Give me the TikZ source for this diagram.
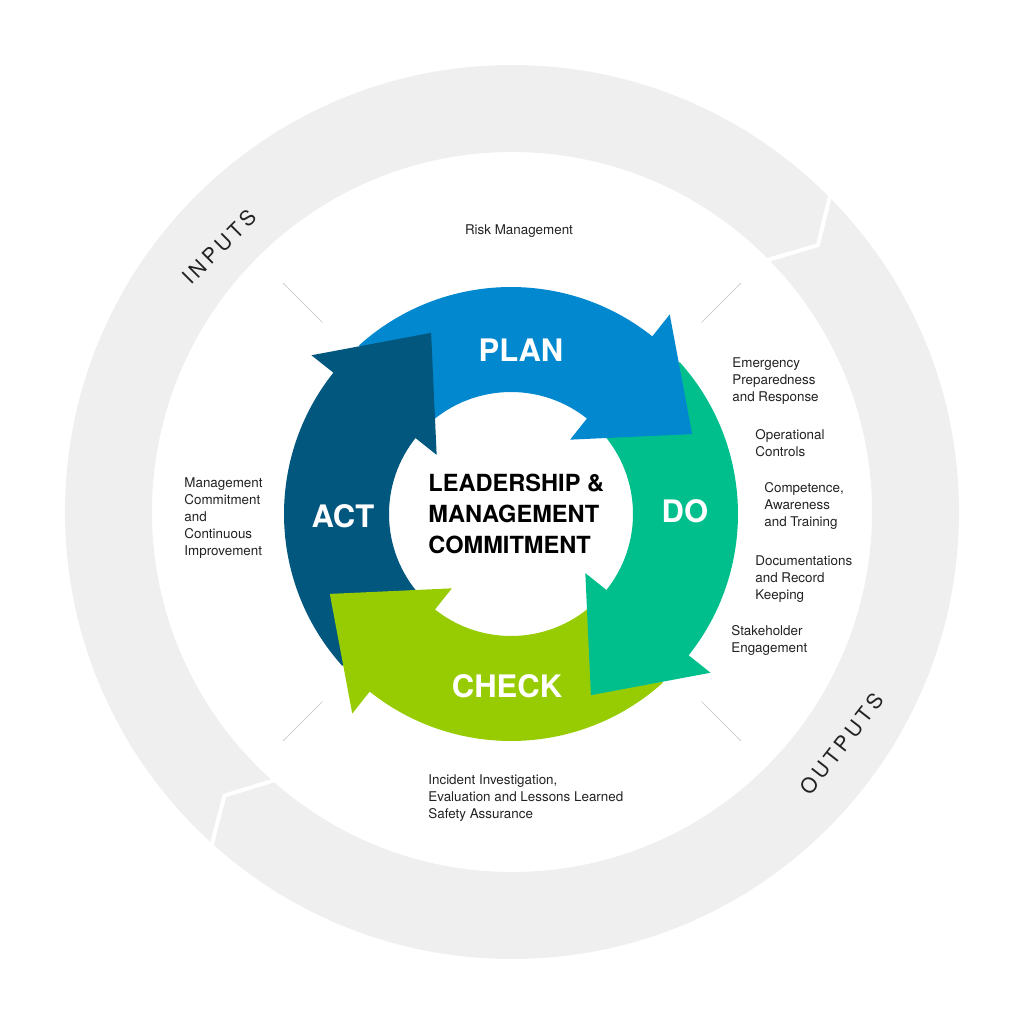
\documentclass[tikz,border=0pt]{standalone}
\usepackage{fontspec}
\setmainfont{TeX Gyre Heros}
\usepackage{tikz}
\usetikzlibrary{positioning}

\definecolor{ringgrey}{HTML}{EFEFEF}
\definecolor{tickgrey}{HTML}{D2D2D2}
\definecolor{inkgrey}{HTML}{222222}
\definecolor{planblue}{HTML}{0288CF}
\definecolor{dogreen}{HTML}{00BF8C}
\definecolor{checkgreen}{HTML}{97CC03}
\definecolor{actblue}{HTML}{02577F}

\tikzset{
  note/.style={anchor=west, align=left, inner sep=0pt, text=inkgrey,
    font=\fontsize{6.7}{8.5}\selectfont},
  stage/.style={inner sep=0pt, text=white, font=\bfseries\fontsize{15.5}{18}\selectfont},
  flow/.style={inner sep=0pt, text=inkgrey,
    font=\addfontfeature{LetterSpace=18}\fontsize{10.4}{12}\selectfont},
}

\begin{document}
\begin{tikzpicture}[x=0.5pt,y=0.5pt]
\useasboundingbox (-512,-512) rectangle (512,512);

%%Outer ring
\fill[ringgrey, even odd rule] (0,0) circle[radius=447] (0,0) circle[radius=360];
\draw[white, line width=2pt] (45.2:352) -- (41.1:406) -- (45.1:452);
\draw[white, line width=2pt] (229.1:352) -- (224.6:404) -- (228.2:452);
\node[flow, rotate=45] (inputs) at (-293,265) {INPUTS};
\node[flow, rotate=52] (outputs) at (330,-232) {OUTPUTS};

%%Ticks
\foreach \t in {45,135,225,315}
  \draw[tickgrey, line width=0.5pt] (\t:268) -- (\t:324);

%%Cycle
\begin{scope}[shift={(-1,-2)}]
\foreach \a/\col in {51.5/planblue,-38.5/dogreen,-128.5/checkgreen,141.5/actblue}
  \fill[\col] ({\a+80.5}:227) arc[start angle=\a+80.5, end angle=\a-1, radius=227]
    -- ({\a-1}:122) arc[start angle=\a-1, end angle=\a+80.5, radius=122] -- cycle;
\foreach \a/\col in {51.5/planblue,-38.5/dogreen,-128.5/checkgreen,141.5/actblue}
  \fill[\col] ({\a}:255) -- ({\a-27.7}:198) -- ({\a}:95) -- cycle;
\end{scope}

%%Labels
\node[stage] (plan) at (9,162) {PLAN};
\node[stage] (do) at (173,1) {DO};
\node[stage] (check) at (-5,-174) {CHECK};
\node[stage] (act) at (-169,-4) {ACT};
\node[anchor=west, align=left, inner sep=0pt, font=\bfseries\fontsize{11.8}{15.5}\selectfont]
  (core) at (-84,-2) {LEADERSHIP \&\\MANAGEMENT\\COMMITMENT};

%%Notes
\node[note, anchor=center] (risk) at (7,281) {Risk Management};
\node[note] (emergency) at (220,131) {Emergency\\Preparedness\\and Response};
\node[note] (controls) at (243,68.5) {Operational\\Controls};
\node[note] (competence) at (252,6) {Competence,\\Awareness\\and Training};
\node[note] (records) at (243,-67) {Documentations\\and Record\\Keeping};
\node[note] (stakeholder) at (219,-128.5) {Stakeholder\\Engagement};
\node[note] (improvement) at (-328,-6) {Management\\Commitment\\and\\Continuous\\Improvement};
\node[note] (incident) at (-84,-286) {Incident Investigation,\\Evaluation and Lessons Learned\\Safety Assurance};
\end{tikzpicture}
\end{document}
